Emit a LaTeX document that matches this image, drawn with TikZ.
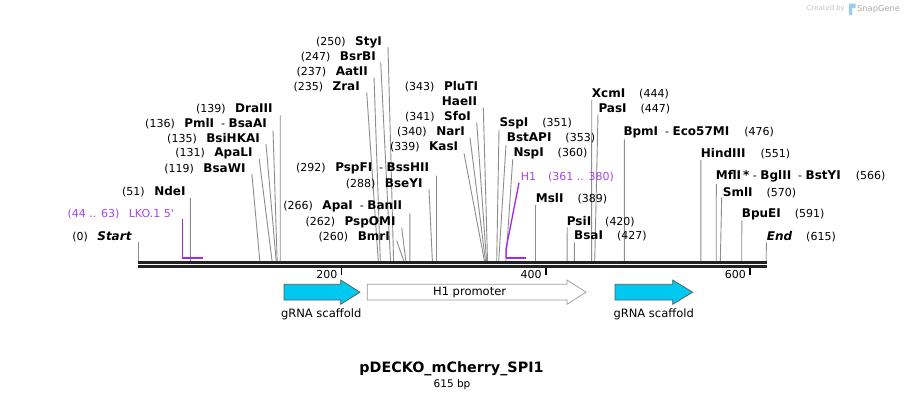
\documentclass[tikz,border=0pt]{standalone}
\usepackage{fontspec}
\setmainfont{DejaVu Sans}
\usepackage{xcolor}
\usetikzlibrary{positioning,backgrounds}

\definecolor{cutgray}{RGB}{140,140,140}
\definecolor{primer}{RGB}{160,40,240}
\definecolor{primertext}{RGB}{165,70,235}
\definecolor{scaffold}{RGB}{0,200,240}
\definecolor{backbone}{RGB}{34,34,34}
\definecolor{snaplogo}{RGB}{150,205,240}

% base pair -> x position on the map
\newcommand{\site}[1]{138.3+1.0211*#1}
\newcommand{\enz}[1]{{\fontsize{12}{14}\selectfont\bfseries #1}}

\tikzset{
  leftsite/.style={anchor=east, inner sep=0pt, font=\fontsize{11}{13}\selectfont},
  rightsite/.style={anchor=west, inner sep=0pt, font=\fontsize{11}{13}\selectfont},
  cutline/.style={draw=cutgray, line width=0.9pt},
  primerline/.style={draw=primer, line width=1.3pt},
  primerbar/.style={draw=primer, line width=2.2pt},
  featarrow/.style={draw=gray!70!black, line width=0.7pt},
  featlabel/.style={inner sep=0pt, font=\fontsize{11.5}{13}\selectfont},
}

\begin{document}
\begin{tikzpicture}[x=1pt, y=-1pt]
    \useasboundingbox (0,0) rectangle (905,400);

    % Watermark
    \node[anchor=east, inner sep=0pt, text=gray!45, font=\fontsize{6.9}{8}\selectfont] (made) at (845,9) {Created by};
    \fill[snaplogo] (849,3.5) rectangle (855.5,8) (849,3.5) rectangle (852.2,15);
    \node[anchor=west, inner sep=0pt, text=gray!65, font=\fontsize{8.3}{10}\selectfont] (snap) at (857,9) {SnapGene};

    % Cut site positions on the backbone
    \foreach \b in {0,51,119,131,135,136,139,235,237,247,250,260,262,266,288,292,339,340,341,342,
                    351,353,360,389,420,427,444,447,476,551,566,570,591,615}
        \coordinate (s\b) at ({\site{\b}},261);

    % Sites left of their line
    \node[leftsite] (lStart) at (131.7,236.7) {(0)\hspace{9.5pt}\enz{\itshape Start}};
    \node[leftsite, text=primertext] (lLKO) at (174,214) {(44 .. 63)\hspace{9.5pt}LKO.1 5\textquotesingle};
    \node[leftsite] (lNde) at (185.7,191.7) {(51)\hspace{9.5pt}\enz{NdeI}};
    \node[leftsite] (lBsaW) at (245.7,169) {(119)\hspace{9.5pt}\enz{BsaWI}};
    \node[leftsite] (lApaL) at (252.7,153) {(131)\hspace{9.5pt}\enz{ApaLI}};
    \node[leftsite] (lBsiHKA) at (260,139) {(135)\hspace{9.5pt}\enz{BsiHKAI}};
    \node[leftsite] (lPml) at (267,124) {(136)\hspace{9.5pt}\enz{PmlI}~~-~\enz{BsaAI}};
    \node[leftsite] (lDra) at (272.7,109) {(139)\hspace{9.5pt}\enz{DraIII}};
    \node[leftsite] (lSty) at (382,42.3) {(250)\hspace{9.5pt}\enz{StyI}};
    \node[leftsite] (lBsrB) at (376,56.7) {(247)\hspace{9.5pt}\enz{BsrBI}};
    \node[leftsite] (lAat) at (368,71.7) {(237)\hspace{9.5pt}\enz{AatII}};
    \node[leftsite] (lZra) at (360,86.7) {(235)\hspace{9.5pt}\enz{ZraI}};
    \node[leftsite] (lPspF) at (429.3,168.3) {(292)\hspace{9.5pt}\enz{PspFI}~~-~\enz{BssHII}};
    \node[leftsite] (lBseY) at (422.7,184) {(288)\hspace{9.5pt}\enz{BseYI}};
    \node[leftsite] (lApa) at (402.3,206.7) {(266)\hspace{9.5pt}\enz{ApaI}~~-~\enz{BanII}};
    \node[leftsite] (lPspOM) at (395.7,222.3) {(262)\hspace{9.5pt}\enz{PspOMI}};
    \node[leftsite] (lBmr) at (390,237.3) {(260)\hspace{9.5pt}\enz{BmrI}};
    \node[leftsite] (lPlu) at (478.3,86.7) {(343)\hspace{9.5pt}\enz{PluTI}};
    \node[leftsite] (lHae) at (477.3,101.7) {\enz{HaeII}};
    \node[leftsite] (lSfo) at (471,116.7) {(341)\hspace{9.5pt}\enz{SfoI}};
    \node[leftsite] (lNar) at (465,131.7) {(340)\hspace{9.5pt}\enz{NarI}};
    \node[leftsite] (lKas) at (458.3,146.7) {(339)\hspace{9.5pt}\enz{KasI}};

    % Sites right of their line
    \node[rightsite] (rSsp) at (499.3,123.3) {\enz{SspI}\hspace{14pt}(351)};
    \node[rightsite] (rBstAP) at (506.7,138.3) {\enz{BstAPI}\hspace{14pt}(353)};
    \node[rightsite] (rNsp) at (513.3,153.3) {\enz{NspI}\hspace{14pt}(360)};
    \node[rightsite, text=primertext] (rH1) at (520.7,176.7) {H1\hspace{12pt}(361 .. 380)};
    \node[rightsite] (rMsl) at (535.7,198.3) {\enz{MslI}\hspace{14pt}(389)};
    \node[rightsite] (rPsi) at (566.7,221.7) {\enz{PsiI}\hspace{14pt}(420)};
    \node[rightsite] (rBsa) at (574,236) {\enz{BsaI}\hspace{14pt}(427)};
    \node[rightsite] (rXcm) at (591.7,94) {\enz{XcmI}\hspace{14pt}(444)};
    \node[rightsite] (rPas) at (598.3,109) {\enz{PasI}\hspace{14pt}(447)};
    \node[rightsite] (rBpm) at (623.3,132.3) {\enz{BpmI}~~-~\enz{Eco57MI}\hspace{15pt}(476)};
    \node[rightsite] (rHind) at (700.7,154) {\enz{HindIII}\hspace{15pt}(551)};
    \node[rightsite] (rMfl) at (715.7,176.7) {\enz{MflI\,*}~-~\enz{BglII}~~-~\enz{BstYI}\hspace{15pt}(566)};
    \node[rightsite] (rSml) at (722.7,192.3) {\enz{SmlI}\hspace{14pt}(570)};
    \node[rightsite] (rBpuE) at (741.7,214) {\enz{BpuEI}\hspace{14pt}(591)};
    \node[rightsite] (rEnd) at (766.7,236.7) {\enz{\itshape End}\hspace{14pt}(615)};

    % Cut lines, under the text
    \begin{pgfonlayer}{background}
    \fill[white] (0,0) rectangle (905,400);
    \draw[cutline] ([shift={(6.6,5)}]lStart.east) -- (s0);
    \draw[cutline] ([shift={(4.7,6.3)}]lNde.east) -- (s51);
    \draw[cutline] ([shift={(6.2,5)}]lBsaW.east) -- (s119);
    \draw[cutline] ([shift={(6.5,6)}]lApaL.east) -- (s131);
    \draw[cutline] ([shift={(6,5)}]lBsiHKA.east) -- (s135);
    \draw[cutline] ([shift={(6,6.5)}]lPml.east) -- (s136);
    \draw[cutline] ([shift={(7.5,6)}]lDra.east) -- (s139);
    \draw[cutline] ([shift={(6,4.5)}]lSty.east) -- (s250);
    \draw[cutline] ([shift={(4.7,5.6)}]lBsrB.east) -- (s247);
    \draw[cutline] ([shift={(6,5.6)}]lAat.east) -- (s237);
    \draw[cutline] ([shift={(6.7,5.6)}]lZra.east) -- (s235);
    \draw[cutline] ([shift={(7.2,7.4)}]lPspF.east) -- (s292);
    \draw[cutline] ([shift={(6.3,5.3)}]lBseY.east) -- (s288);
    \draw[cutline] ([shift={(7.6,6.6)}]lApa.east) -- (s266);
    \draw[cutline] ([shift={(6,5.4)}]lPspOM.east) -- (s262);
    \draw[cutline] ([shift={(6.7,3.4)}]lBmr.east) -- (s260);
    \draw[cutline] ([shift={(6,6)}]lHae.east) -- (s342);
    \draw[cutline] ([shift={(5.7,5.6)}]lSfo.east) -- (s341);
    \draw[cutline] ([shift={(5,6)}]lNar.east) -- (s340);
    \draw[cutline] ([shift={(5.7,6.6)}]lKas.east) -- (s339);

    \draw[cutline] ([shift={(-0.3,6.7)}]rSsp.west) -- (s351);
    \draw[cutline] ([shift={(-0.7,6.7)}]rBstAP.west) -- (s353);
    \draw[cutline] ([shift={(-0.6,6)}]rNsp.west) -- (s360);
    \draw[cutline] ([shift={(-0.2,6.7)}]rMsl.west) -- (s389);
    \draw[cutline] ([shift={(0.5,5.6)}]rPsi.west) -- (s420);
    \draw[cutline] ([shift={(0.3,6.7)}]rBsa.west) -- (s427);
    \draw[cutline] ([shift={(0,6)}]rXcm.west) -- (s444);
    \draw[cutline] ([shift={(-0.3,5.3)}]rPas.west) -- (s447);
    \draw[cutline] ([shift={(1.1,7)}]rBpm.west) -- (s476);
    \draw[cutline] ([shift={(0.2,6)}]rHind.west) -- (s551);
    \draw[cutline] ([shift={(0.6,7.3)}]rMfl.west) -- (s566);
    \draw[cutline] ([shift={(-1,5)}]rSml.west) -- (s570);
    \draw[cutline] ([shift={(0.1,6.7)}]rBpuE.west) -- (s591);
    \draw[cutline] ([shift={(-0.4,6)}]rEnd.west) -- (s615);
    \end{pgfonlayer}

    % Primers
    \coordinate (lkoA) at ({\site{43}},257.8);
    \coordinate (lkoB) at ({\site{63}},257.8);
    \draw[primerline] (lkoA |- lLKO.south) -- (lkoA);
    \draw[primerbar] (lkoA) -- (lkoB);
    \coordinate (h1A) at ({\site{360}},257.8);
    \coordinate (h1B) at ({\site{380}},257.8);
    \draw[primerline] ([shift={(-1.7,6)}]rH1.west) -- ([yshift=8pt]h1A) -- (h1A);
    \draw[primerbar] (h1A) -- (h1B);

    % Backbone
    \coordinate (bbStart) at ({\site{0}},262.5);
    \coordinate (bbEnd) at ({\site{615}+0.4},262.5);
    \draw[backbone, line width=3pt] (bbStart) -- (bbEnd);
    \draw[backbone, line width=2.4pt] ([yshift=-3.8pt]bbStart) -- ([yshift=-3.8pt]bbEnd);

    % Ruler
    \foreach \t in {200,400,600} {
        \coordinate (tick\t) at ({\site{\t}-1},268);
        \draw[black, line width=1.8pt] (tick\t) -- ++(0,6.5);
        \node[anchor=east, inner sep=0pt, font=\fontsize{11}{13}\selectfont] (tlab\t) at ([shift={(-4,6)}]tick\t) {\t};
    }

    % Features
    \draw[featarrow, fill=scaffold] (284,284.3) -- (340.7,284.3) -- (340.7,280) -- (360,292.2)
        -- (340.7,304.3) -- (340.7,300) -- (284,300) -- cycle;
    \node[featlabel] (scaf1) at (321.2,314.3) {gRNA scaffold};
    \draw[featarrow, draw=gray!80, fill=white] (367.3,284.3) -- (567,284.3) -- (567,280) -- (586,292.2)
        -- (567,304.3) -- (567,300) -- (367.3,300) -- cycle;
    \node[featlabel] (h1prom) at (469.6,292.2) {H1 promoter};
    \draw[featarrow, fill=scaffold] (615,284.3) -- (672.7,284.3) -- (672.7,280) -- (692.7,292.2)
        -- (672.7,304.3) -- (672.7,300) -- (615,300) -- cycle;
    \node[featlabel] (scaf2) at (653.7,314.3) {gRNA scaffold};

    % Title
    \node[inner sep=0pt, font=\fontsize{14.3}{16}\selectfont\bfseries] (title) at (451.5,368.5) {pDECKO\_mCherry\_SPI1};
    \node[inner sep=0pt, font=\fontsize{10.5}{12}\selectfont] (size) at (452,384.5) {615 bp};
\end{tikzpicture}
\end{document}
